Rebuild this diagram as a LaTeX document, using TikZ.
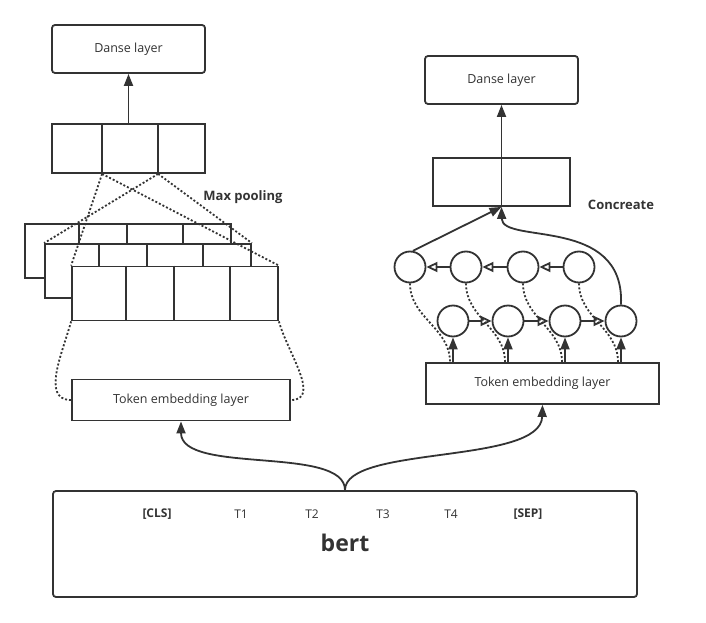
\documentclass[tikz,border=0pt]{standalone}
\usepackage{fontspec}
\setmainfont{Open Sans}
\usetikzlibrary{arrows.meta,positioning,calc}
\definecolor{ink}{HTML}{333333}
\tikzset{
dense/.style = {draw, fill=white, rectangle, rounded corners=3pt, minimum width=153pt, minimum height=48pt, font=\fontsize{12.5}{14}\selectfont},
pool/.style = {draw, fill=white, rectangle, minimum width=153pt, minimum height=49pt},
fmap/.style = {draw, fill=white, rectangle, minimum width=206pt, minimum height=54pt},
cell/.style = {draw, fill=white, circle, minimum size=31pt, inner sep=0pt},
emb/.style = {draw, fill=white, rectangle, minimum height=41pt, font=\fontsize{12.5}{14}\selectfont},
dots/.style = {dash pattern=on 2pt off 2pt},
tip/.style = {-{Triangle[length=12pt,width=9pt]}},
otip/.style = {-{Triangle[open,length=11pt,width=10pt]}},
tag/.style = {font=\bfseries\fontsize{13}{15}\selectfont},
word/.style = {font=\fontsize{12}{14}\selectfont}
}
\begin{document}
\begin{tikzpicture}[x=1pt, y=-1pt, line width=1.8pt, color=ink]
\useasboundingbox (0,0) rectangle (706,623);
% left branch: pooling
\node [dense] (dense1) at (128.5,49) {Danse layer};
\node [pool] (pool) at (128.5,148.5) {};
\foreach \d in {51,107}
  \draw ([xshift=\d pt]pool.north west) -- ([xshift=\d pt]pool.south west);
\draw [tip] (pool.north) -- (dense1.south);
\foreach \m/\x/\y in {back/128/251, mid/148/271, front/175/293.5} {
  \node [fmap] (\m) at (\x,\y) {};
  \foreach \d in {55,103,159}
    \draw ([xshift=\d pt]\m.north west) -- ([xshift=\d pt]\m.south west);
}
\coordinate (p1) at ([xshift=51pt]pool.south west);
\coordinate (p2) at ([xshift=107pt]pool.south west);
\draw [dots] (p1) -- (front.north west);
\draw [dots] (p1) -- (front.north east);
\draw [dots] (p2) -- (mid.north west);
\draw [dots] (p2) -- (mid.north east);
\node [emb, minimum width=218pt] (tok1) at (181,400) {Token embedding layer};
\draw [dots] (front.south west) to[out=-105,in=180] (tok1.west);
\draw [dots] (front.south east) to[out=-75,in=0] (tok1.east);
\node [tag] (maxp) at (243,197) {Max pooling};

% right branch: bi-rnn
\node [dense] (dense2) at (501.5,80) {Danse layer};
\node [draw, fill=white, minimum width=137pt, minimum height=48pt] (concat) at (501.5,182) {};
\node [emb, minimum width=233pt] (tok2) at (542.5,383.5) {Token embedding layer};
\foreach \i/\x in {1/410,2/466,3/523,4/579}
  \node [cell] (b\i) at (\x,267) {};
\foreach \i/\x in {1/453,2/508,3/565,4/621} {
  \coordinate (in\i) at (tok2.north -| \x,0);
  \draw [dots] (b\i.south) to[out=-90,in=90] ([xshift=-3pt]in\i);
}
\foreach \i/\x in {1/453,2/508,3/565,4/621} {
  \node [cell] (f\i) at (\x,321) {};
  \draw [tip] (in\i) -- (f\i.south);
}
\foreach \i/\j in {2/1,3/2,4/3}
  \draw [otip] (b\i) -- (b\j);
\foreach \i/\j in {1/2,2/3,3/4}
  \draw [otip] (f\i) -- (f\j);
\draw [tip] (b1.80) -- (concat.south);
\draw [tip] (f4.north) .. controls (625,215) and (502,245) .. (concat.south);
\draw [tip] (concat.south) -- (dense2.south);
\node [tag] (cat) at (621,205) {Concreate};

% bert
\node [draw, fill=white, rounded corners=3pt, minimum width=584pt, minimum height=106pt] (bert) at (345,544) {};
\node [font=\bfseries\fontsize{23}{27}\selectfont] (bertlbl) at (345,543) {bert};
\foreach \n/\x/\t in {cls/157/{\bfseries [CLS]}, t1/241/T1, t2/312/T2, t3/383/T3, t4/451/T4, sep/528/{\bfseries [SEP]}}
  \node [word] (\n) at (\x,514) {\t};
\draw [tip] (bert.north) .. controls (345,445) and (181,475) .. (tok1.south);
\draw [tip] (bert.north) .. controls (345,445) and (541,465) .. (tok2.south);
\end{tikzpicture}
\end{document}
